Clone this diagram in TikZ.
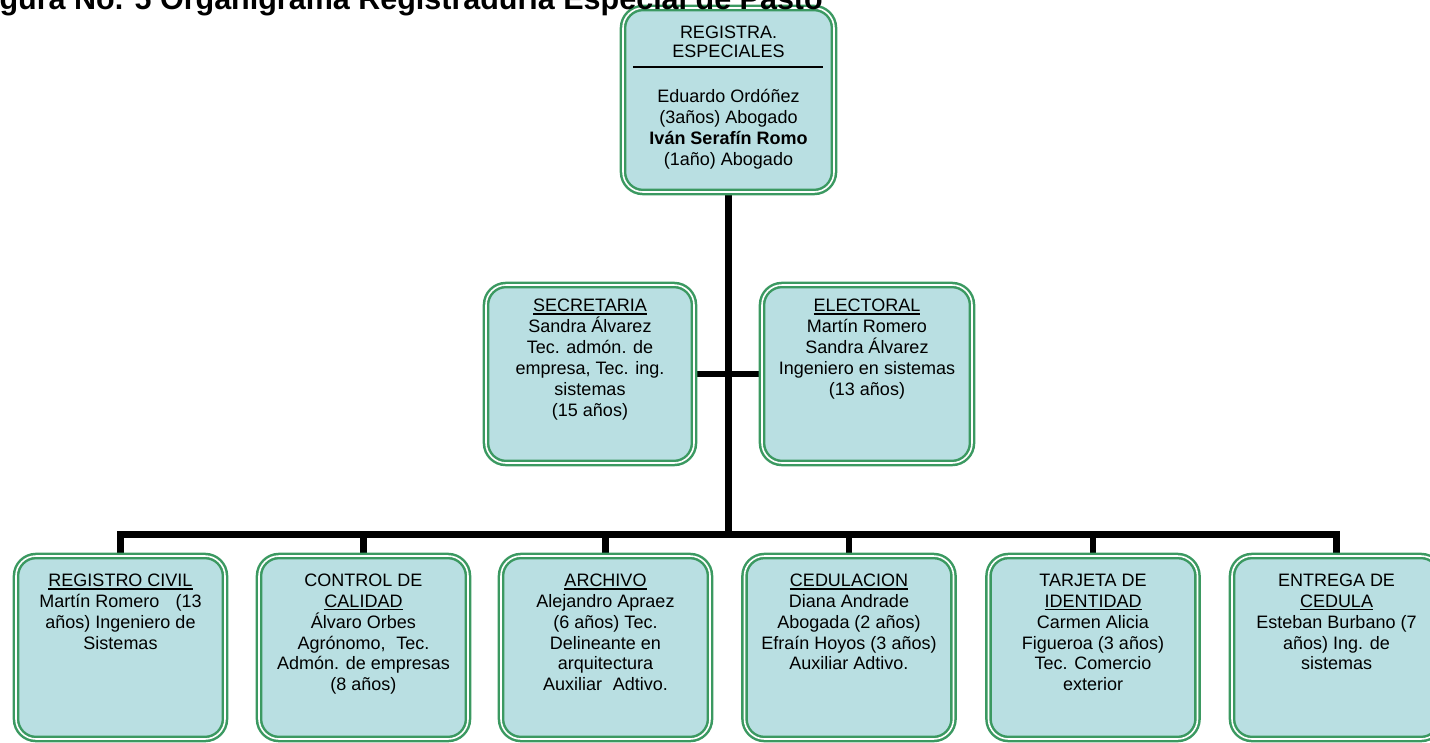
\documentclass[tikz,border=0pt]{standalone}
\usepackage{fontspec}
\setmainfont{Liberation Sans}
\usetikzlibrary{backgrounds}

\definecolor{boxgreen}{RGB}{59,153,97}
\definecolor{boxfill}{RGB}{185,223,226}

% underline used for the unit names
\newcommand\ul[1]{\setbox0\hbox{#1}\rlap{\rule[-2.6pt]{\wd0}{1.4pt}}\box0}
% strut fixing the height of the first text line
\newcommand\fl{\rule{0pt}{14pt}}

\tikzset{
  unit/.style={draw=boxgreen, double=white, line width=2.5pt,
    double distance=1.6pt, fill=boxfill, rounded corners=20pt,
    rectangle, inner sep=0pt, minimum width=#1},
  unit/.default=209pt,
  topunit/.style={unit=211pt, minimum height=184pt},
  midunit/.style={unit=#1, minimum height=178pt},
  lowunit/.style={unit=209pt, minimum height=183pt},
  txt/.style={align=center, inner sep=0pt, anchor=north,
    font=\fontsize{18}{20.7}\selectfont},
  link/.style={draw=black, line width=6.5pt},
}

\begin{document}
\begin{tikzpicture}[x=1pt,y=-1pt]
\useasboundingbox (0,0) rectangle (1430,742);
\clip (0,0) rectangle (1430,742);

% ---- units ----
\node[topunit] (reg) at (728.5,100) {};
\node[midunit=208pt] (sec) at (590,374) {};
\node[midunit=210pt] (ele) at (867,374) {};
\node[lowunit] (civ) at (120.5,647.5) {};
\node[lowunit] (cal) at (363.5,647.5) {};
\node[lowunit] (arc) at (605.5,647.5) {};
\node[lowunit] (ced) at (849,647.5) {};
\node[lowunit] (tar) at (1093,647.5) {};
\node[lowunit] (ent) at (1336.5,647.5) {};

% ---- connectors ----
\coordinate (bus) at (728.5,534.5);
\begin{pgfonlayer}{background}
  \draw[link] (reg.south) -- (bus);
  \draw[link] (sec.east) -- (ele.west);
  \foreach \c in {civ,cal,arc,ced,tar,ent}
    \draw[link] (bus) -| (\c.north);
\end{pgfonlayer}

% ---- texts ----
\node[txt, font=\fontsize{18}{19}\selectfont] (reg-h)
  at ([yshift=-17.5pt]reg.north) {\fl REGISTRA.\\ESPECIALES};
\draw[line width=1.6pt] ([shift={(11,60.3)}]reg.north west)
  -- ([shift={(-12,60.3)}]reg.north east);
\node[txt] (reg-t) at ([yshift=-82pt]reg.north)
  {\fl Eduardo Ordóñez\\(3años) Abogado\\\textbf{Iván Serafín Romo}\\(1año) Abogado};

\node[txt, font=\fontsize{18}{21}\selectfont] (sec-t) at ([yshift=-14pt]sec.north)
  {\fl\ul{SECRETARIA}\\Sandra Álvarez\\Tec. admón. de\\empresa, Tec. ing.\\sistemas\\(15 años)};
\node[txt, font=\fontsize{18}{21}\selectfont] (ele-t) at ([yshift=-14pt]ele.north)
  {\fl\ul{ELECTORAL}\\Martín Romero\\Sandra Álvarez\\Ingeniero en sistemas\\(13 años)};

\node[txt] (civ-t) at ([yshift=-18pt]civ.north)
  {\fl\ul{REGISTRO CIVIL}\\Martín Romero\hspace{0.9em}(13\\años) Ingeniero de\\Sistemas};
\node[txt] (cal-t) at ([yshift=-18pt]cal.north)
  {\fl CONTROL DE\\\ul{CALIDAD}\\Álvaro Orbes\\Agrónomo,\hspace{0.6em}Tec.\\Admón. de empresas\\(8 años)};
\node[txt] (arc-t) at ([yshift=-18pt]arc.north)
  {\fl\ul{ARCHIVO}\\Alejandro Apraez\\(6 años) Tec.\\Delineante en\\arquitectura\\Auxiliar\hspace{0.6em}Adtivo.};
\node[txt] (ced-t) at ([yshift=-18pt]ced.north)
  {\fl\ul{CEDULACION}\\Diana Andrade\\Abogada (2 años)\\Efraín Hoyos (3 años)\\Auxiliar Adtivo.};
\node[txt] (tar-t) at ([yshift=-18pt]tar.north)
  {\fl TARJETA DE\\\ul{IDENTIDAD}\\Carmen Alicia\\Figueroa (3 años)\\Tec. Comercio\\exterior};
\node[txt] (ent-t) at ([yshift=-18pt]ent.north)
  {\fl ENTREGA DE\\\ul{CEDULA}\\Esteban Burbano (7\\años) Ing. de\\sistemas};

% caption, printed over the top unit
\node[anchor=base east, inner sep=0pt,
      font=\bfseries\fontsize{30.5}{34}\selectfont] (title) at (823,9)
  {Figura No. 5 Organigrama Registraduría Especial de Pasto};
\end{tikzpicture}
\end{document}
